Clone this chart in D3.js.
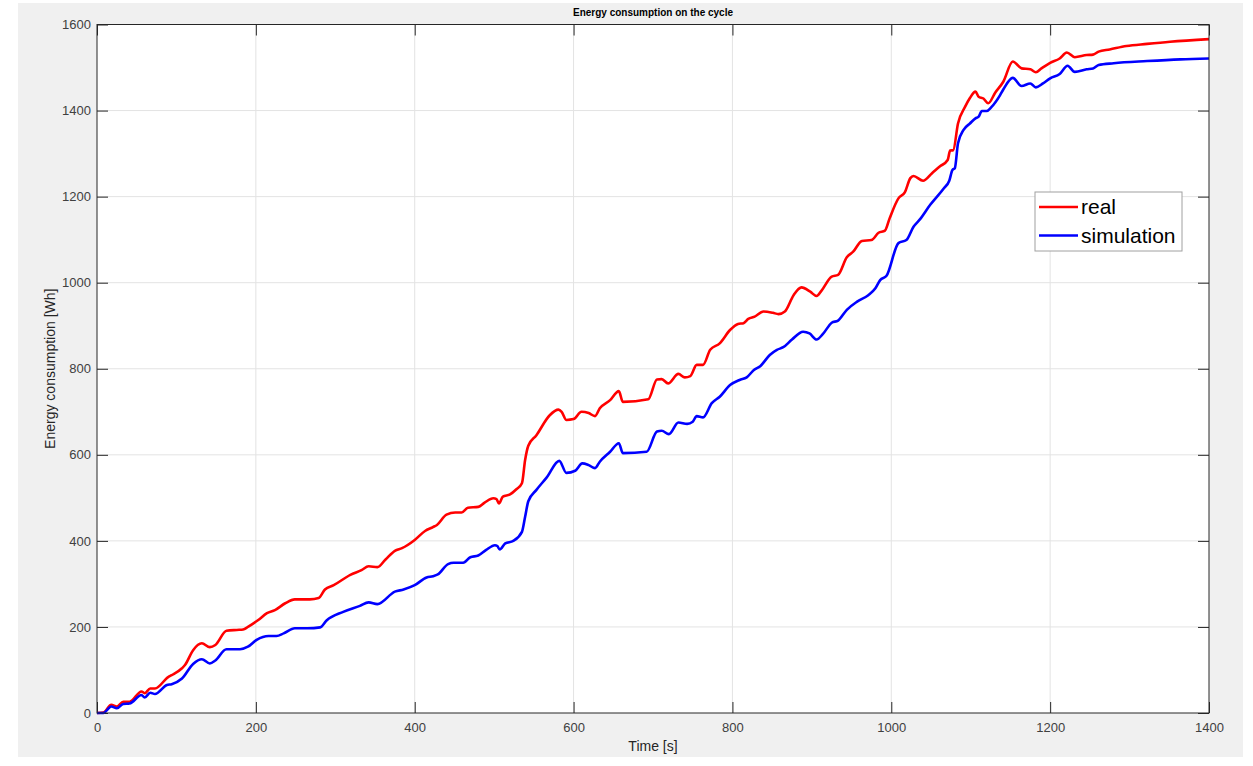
<!DOCTYPE html>
<html>
<head>
<meta charset="utf-8">
<script src="https://cdn.jsdelivr.net/npm/d3@7"></script>
<style>
  body { margin: 0; background: #ffffff; }
  svg { display: block; font-family: "Liberation Sans", Arial, Helvetica, sans-serif; }
</style>
</head>
<body>
<script>
const realTime = [0, 8, 18, 25, 33, 41, 56, 60, 67, 73, 90, 94, 107, 111, 121, 132, 142, 149, 163, 176,
  184, 190, 203, 214, 224, 237, 249, 268, 279, 287, 298, 319, 333, 342, 353, 363, 375, 384, 400, 413,
  423, 428, 440, 451, 459, 467, 480, 488, 499, 503, 506, 511, 520, 528, 535, 539, 543, 553, 570, 581,
  585, 591, 600, 610, 619, 627, 633, 646, 657, 662, 694, 705, 711, 719, 732, 740, 747, 755, 763, 772,
  784, 797, 807, 814, 820, 828, 839, 851, 858, 866, 877, 887, 898, 906, 912, 925, 933, 944, 952, 963,
  975, 984, 992, 998, 1009, 1017, 1024, 1028, 1040, 1051, 1061, 1071, 1074, 1078, 1084, 1093, 1099, 1106, 1110, 1116,
  1122, 1131, 1141, 1153, 1164, 1175, 1182, 1189, 1200, 1212, 1221, 1231, 1246, 1254, 1261, 1275, 1296, 1322, 1351, 1400];
const realEnergy = [0, 1, 19, 15, 26, 26, 50, 46, 57, 57, 84, 88, 104, 112, 146, 162, 153, 158, 191, 193,
  194, 200, 216, 232, 239, 255, 264, 264, 267, 287, 297, 321, 332, 341, 339, 356, 377, 383, 402, 423,
  432, 437, 461, 466, 466, 477, 479, 489, 499, 497, 487, 503, 508, 520, 534, 588, 621, 645, 692, 705,
  700, 681, 683, 700, 697, 690, 708, 727, 748, 723, 729, 775, 776, 766, 788, 780, 783, 809, 809, 844,
  859, 890, 904, 906, 916, 921, 933, 930, 927, 933, 971, 989, 979, 969, 981, 1014, 1018, 1059, 1072, 1097,
  1099, 1116, 1121, 1150, 1196, 1210, 1243, 1248, 1237, 1254, 1270, 1285, 1307, 1308, 1370, 1409, 1429, 1444, 1432, 1428,
  1417, 1442, 1467, 1514, 1498, 1496, 1489, 1498, 1511, 1521, 1535, 1524, 1529, 1530, 1537, 1542, 1550, 1555, 1560, 1566];

const simTime = [0, 8, 18, 25, 33, 41, 56, 60, 67, 73, 88, 94, 107, 121, 132, 142, 149, 163, 180, 190,
  201, 216, 226, 235, 249, 265, 281, 289, 310, 331, 342, 353, 375, 386, 400, 415, 423, 429, 442, 449,
  461, 470, 480, 490, 501, 504, 507, 514, 524, 535, 539, 543, 553, 566, 582, 591, 602, 611, 619, 627,
  633, 646, 657, 662, 692, 705, 711, 720, 732, 743, 750, 755, 763, 774, 784, 797, 809, 818, 827, 835,
  847, 856, 864, 875, 889, 897, 906, 914, 925, 933, 944, 957, 971, 980, 986, 994, 1009, 1019, 1028, 1036,
  1049, 1066, 1073, 1077, 1080, 1084, 1091, 1099, 1106, 1110, 1114, 1120, 1126, 1137, 1141, 1153, 1164, 1175, 1182, 1191,
  1200, 1212, 1222, 1231, 1246, 1254, 1261, 1280, 1322, 1364, 1400];
const simEnergy = [0, 0, 15, 11, 21, 22, 42, 36, 47, 44, 65, 67, 80, 114, 125, 115, 122, 148, 148, 154,
  170, 179, 179, 185, 197, 197, 199, 215, 235, 249, 257, 253, 282, 287, 297, 315, 318, 322, 346, 349,
  349, 362, 366, 379, 390, 388, 380, 394, 400, 421, 456, 492, 518, 547, 586, 558, 563, 580, 576, 569,
  584, 607, 627, 604, 607, 654, 656, 648, 675, 672, 677, 690, 687, 720, 735, 762, 774, 780, 797, 806,
  832, 844, 850, 868, 886, 882, 868, 881, 907, 912, 937, 956, 971, 987, 1006, 1016, 1092, 1099, 1130, 1147,
  1181, 1219, 1237, 1262, 1266, 1324, 1355, 1370, 1382, 1386, 1399, 1399, 1408, 1436, 1449, 1476, 1457, 1463, 1454, 1463,
  1475, 1485, 1504, 1490, 1496, 1498, 1506, 1510, 1515, 1519, 1521];

const xTicks = [0, 200, 400, 600, 800, 1000, 1200, 1400];
const yTicks = [0, 200, 400, 600, 800, 1000, 1200, 1400, 1600];
const seriesNames = ['real', 'simulation'];
const seriesColors = ['#ff0000', '#0000ff'];

const width = 1253, height = 766;
const margin = {left: 97, right: 44, top: 24.5, bottom: 53};
const innerW = width - margin.left - margin.right;
const innerH = height - margin.top - margin.bottom;
const ink = '#262626';

const svg = d3.select('body').append('svg')
  .attr('width', width)
  .attr('height', height);

// figure background panel
svg.append('rect')
  .attr('x', 18).attr('y', 3)
  .attr('width', 1225).attr('height', 754)
  .attr('fill', '#f0f0f0');

const x = d3.scaleLinear().domain([0, 1400]).range([0, innerW]);
const y = d3.scaleLinear().domain([0, 1600]).range([innerH, 0]);

const g = svg.append('g').attr('transform', `translate(${margin.left},${margin.top})`);

g.append('rect')
  .attr('width', innerW).attr('height', innerH)
  .attr('fill', '#ffffff');

// grid
g.append('g')
  .selectAll('line')
  .data(xTicks.slice(1, -1))
  .join('line')
  .attr('x1', d => x(d)).attr('x2', d => x(d))
  .attr('y1', 0).attr('y2', innerH)
  .attr('stroke', '#e3e3e3').attr('stroke-width', 1);
g.append('g')
  .selectAll('line')
  .data(yTicks.slice(1, -1))
  .join('line')
  .attr('y1', d => y(d)).attr('y2', d => y(d))
  .attr('x1', 0).attr('x2', innerW)
  .attr('stroke', '#e3e3e3').attr('stroke-width', 1);

const tickLen = 11;
const xAxis = d3.axisBottom(x).tickValues(xTicks).tickSize(-tickLen).tickPadding(10).tickFormat(d3.format('d'));
const yAxis = d3.axisLeft(y).tickValues(yTicks).tickSize(-tickLen).tickPadding(6).tickFormat(d3.format('d'));
const xTop = d3.axisTop(x).tickValues(xTicks).tickSize(-tickLen).tickFormat('');
const yRight = d3.axisRight(y).tickValues(yTicks).tickSize(-tickLen).tickFormat('');

function styleAxis(sel) {
  sel.select('.domain').remove();
  sel.selectAll('line').attr('stroke', ink);
  sel.selectAll('text')
    .attr('fill', '#404040')
    .style('font-size', '13px')
    .style('font-family', '"Liberation Sans", Arial, Helvetica, sans-serif');
}

g.append('g').attr('transform', `translate(0,${innerH})`).call(xAxis).call(styleAxis);
g.append('g').call(yAxis).call(styleAxis);
g.append('g').call(xTop).call(styleAxis);
g.append('g').attr('transform', `translate(${innerW},0)`).call(yRight).call(styleAxis);

// lines
const line = d3.line()
  .x(d => x(d[0]))
  .y(d => y(d[1]))
  .curve(d3.curveMonotoneX);

const realPts = realTime.map((t, i) => [t, realEnergy[i]]);
const simPts = simTime.map((t, i) => [t, simEnergy[i]]);

g.append('path')
  .datum(realPts)
  .attr('d', line)
  .attr('fill', 'none')
  .attr('stroke', seriesColors[0])
  .attr('stroke-width', 2.6)
  .attr('stroke-linejoin', 'round');

g.append('path')
  .datum(simPts)
  .attr('d', line)
  .attr('fill', 'none')
  .attr('stroke', seriesColors[1])
  .attr('stroke-width', 2.6)
  .attr('stroke-linejoin', 'round');

// box
g.append('rect')
  .attr('width', innerW).attr('height', innerH)
  .attr('fill', 'none')
  .attr('stroke', ink).attr('stroke-width', 1);

// titles
svg.append('text')
  .attr('x', margin.left + innerW / 2).attr('y', 16)
  .attr('text-anchor', 'middle')
  .attr('fill', '#000')
  .style('font-size', '10px').style('font-weight', 'bold')
  .text('Energy consumption on the cycle');

svg.append('text')
  .attr('x', margin.left + innerW / 2).attr('y', 751)
  .attr('text-anchor', 'middle')
  .attr('fill', ink)
  .style('font-size', '14px')
  .text('Time [s]');

svg.append('text')
  .attr('transform', `translate(55,${margin.top + innerH / 2}) rotate(-90)`)
  .attr('text-anchor', 'middle')
  .attr('fill', ink)
  .style('font-size', '14px')
  .text('Energy consumption [Wh]');

// legend
const legend = svg.append('g').attr('transform', 'translate(1035,192)');
legend.append('rect')
  .attr('width', 147).attr('height', 59)
  .attr('fill', '#ffffff')
  .attr('stroke', '#a0a0a0').attr('stroke-width', 1);

const items = legend.selectAll('g')
  .data(seriesNames)
  .join('g')
  .attr('transform', (d, i) => `translate(0,${15 + i * 28.5})`);

items.append('line')
  .attr('x1', 4).attr('x2', 43)
  .attr('y1', 0).attr('y2', 0)
  .attr('stroke', (d, i) => seriesColors[i])
  .attr('stroke-width', 2.6);

items.append('text')
  .attr('x', 46).attr('y', 7)
  .attr('fill', '#000')
  .style('font-size', '21px')
  .text(d => d);
</script>
</body>
</html>
